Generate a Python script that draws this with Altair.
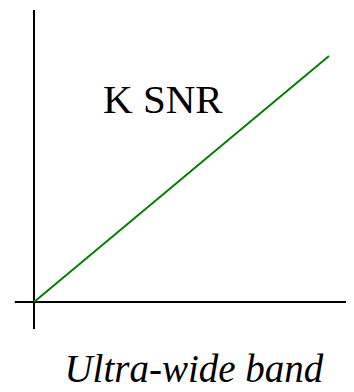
import altair as alt
import pandas as pd

# data
line_x = [0.0, 1.0]
line_y = [0.0, 1.0]
axis_h_x = [-0.065, 1.12]
axis_v_y = [-0.11, 1.187]
label_text = ["K SNR"]
label_pos = [(0.234, 0.768)]
title_text = ["Ultra-wide band"]
title_pos = [(0.542, -0.325)]

xs = alt.Scale(domain=[0, 1], range=[26, 321])
ys = alt.Scale(domain=[0, 1], range=[294, 48])

line_df = pd.DataFrame({"x": line_x, "y": line_y})
hax = pd.DataFrame({"x": [axis_h_x[0]], "x2": [axis_h_x[1]], "y": [0.0]})
vax = pd.DataFrame({"x": [0.0], "y": [axis_v_y[0]], "y2": [axis_v_y[1]]})
lab = pd.DataFrame({"t": label_text, "x": [p[0] for p in label_pos], "y": [p[1] for p in label_pos]})
tit = pd.DataFrame({"t": title_text, "x": [p[0] for p in title_pos], "y": [p[1] for p in title_pos]})

X = lambda f: alt.X(f, type="quantitative", scale=xs, axis=None)
Y = lambda f: alt.Y(f, type="quantitative", scale=ys, axis=None)

h = alt.Chart(hax).mark_rule(color="black", strokeWidth=2).encode(x=X("x"), x2="x2", y=Y("y"))
v = alt.Chart(vax).mark_rule(color="black", strokeWidth=2).encode(x=X("x"), y=Y("y"), y2="y2")
ln = alt.Chart(line_df).mark_line(color="#008000", strokeWidth=2).encode(x=X("x"), y=Y("y"))
t1 = alt.Chart(lab).mark_text(font="Liberation Serif", fontSize=41, align="left", baseline="alphabetic", color="black").encode(
    x=X("x"), y=Y("y"), text="t")
t2 = alt.Chart(tit).mark_text(font="Liberation Serif", fontStyle="italic", fontSize=39, align="center", baseline="alphabetic", color="black").encode(
    x=X("x"), y=Y("y"), text="t")

chart = alt.layer(h, v, ln, t1, t2).properties(
    width=338, height=384, padding=0, autosize=alt.AutoSizeParams(type="none")
).configure_view(stroke=None)

chart.save("out.html", embed_options={"renderer": "svg", "actions": False})
